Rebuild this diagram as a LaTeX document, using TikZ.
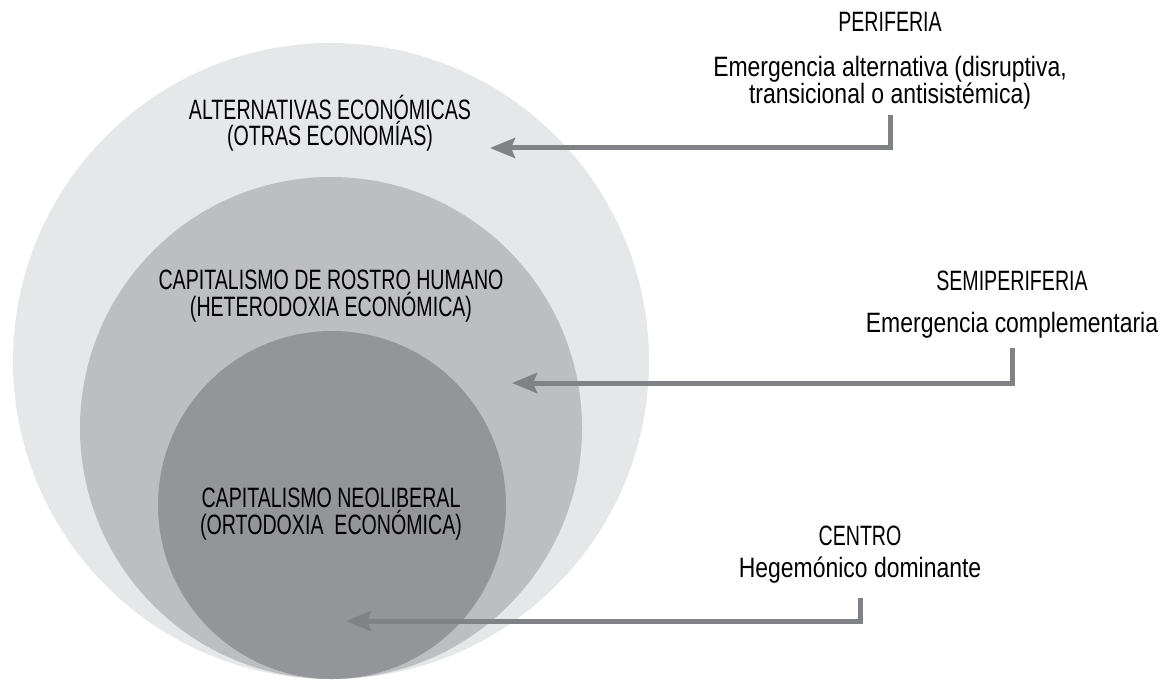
\documentclass[tikz,border=0pt]{standalone}
\usepackage{fontspec}
\setmainfont[FakeStretch=0.82]{Liberation Sans}
\newfontfamily\capsfont[FakeStretch=0.70]{Liberation Sans}
\usetikzlibrary{arrows.meta}
\definecolor{outerring}{HTML}{E6E7E8}
\definecolor{middlering}{HTML}{BCBEC0}
\definecolor{innerring}{HTML}{939598}
\definecolor{flowgray}{HTML}{808285}

\begin{document}
\begin{tikzpicture}[x=0.5pt, y=-0.5pt,
    caps/.style={font=\capsfont\fontsize{14}{13.3}\selectfont, align=center, anchor=base, inner sep=0pt},
    plain/.style={font=\fontsize{14}{13.5}\selectfont, align=center, anchor=base, inner sep=0pt},
    flow/.style={draw=flowgray, line width=2.5pt, -{Stealth[length=12.5pt, width=10pt, inset=2pt]}}]
    \useasboundingbox (0,0) rectangle (1170,679);

    % Draw the three nested economies
    \fill[outerring] (331,361) circle (318);
    \fill[middlering] (331,428) circle (251);
    \fill[innerring] (332,505) circle (174);

    % Label the economies (base = last line)
    \node[caps] (otras) at (330,146) {ALTERNATIVAS ECONÓMICAS\\(OTRAS ECONOMÍAS)};
    \node[caps] (rostro) at (331,316) {CAPITALISMO DE ROSTRO HUMANO\\(HETERODOXIA ECONÓMICA)};
    \node[caps] (neolib) at (331,534) {CAPITALISMO NEOLIBERAL\\(ORTODOXIA\ \ ECONÓMICA)};

    % Label the world-system zones
    \node[caps] (periferia) at (890,32) {PERIFERIA};
    \node[plain] (alt) at (890,104) {Emergencia alternativa (disruptiva,\\transicional o antisistémica)};
    \node[caps] (semiperiferia) at (1012,290) {SEMIPERIFERIA};
    \node[plain] (compl) at (1012,332) {Emergencia complementaria};
    \node[caps] (centro) at (860,545) {CENTRO};
    \node[plain] (hegem) at (860,577) {Hegemónico dominante};

    % Arrow ends inside the circles
    \coordinate (otrasTip) at (490,148);
    \coordinate (rostroTip) at (512,383);
    \coordinate (neolibTip) at (346,621);

    % Draw the arrows from each zone to its economy
    \draw[flow, shorten <=2.5pt] (alt.south) |- (otrasTip);
    \draw[flow, shorten <=5pt] (compl.south) |- (rostroTip);
    \draw[flow, shorten <=7.5pt] (hegem.south) |- (neolibTip);
\end{tikzpicture}
\end{document}
